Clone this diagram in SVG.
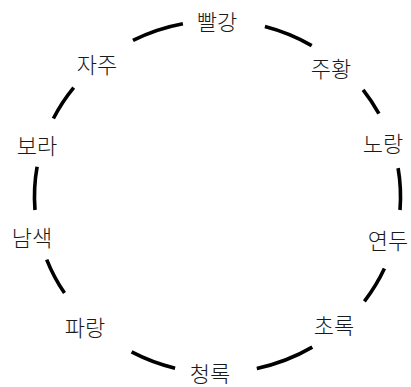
<svg xmlns="http://www.w3.org/2000/svg" width="411" height="387" viewBox="0 0 411 387">
<style>
.lbl{font-family:"Noto Sans CJK KR","Noto Sans",sans-serif;font-size:22px;font-weight:300;fill:#1a1a1a;text-anchor:middle;dominant-baseline:central}
.arc{fill:none;stroke:#000;stroke-width:3.6;stroke-linecap:butt}
</style>
<rect width="411" height="387" fill="#fff"/>
<g id="connectors">
<path class="arc" d="M133,40.4 A183,176 0 0 1 182.9,23.7"/>
<path class="arc" d="M264.9,26.5 A183,176 0 0 1 311.7,45.6"/>
<path class="arc" d="M363.1,89.8 A183,176 0 0 1 378.9,113.6"/>
<path class="arc" d="M398.1,168.1 A183,176 0 0 1 400,210"/>
<path class="arc" d="M384.4,268.6 A183,176 0 0 1 364.4,301.4"/>
<path class="arc" d="M312.3,347.1 A183,176 0 0 1 256.8,368.4"/>
<path class="arc" d="M175.1,368.2 A183,176 0 0 1 131.6,351.9"/>
<path class="arc" d="M64.5,293.1 A183,176 0 0 1 46.7,259.6"/>
<path class="arc" d="M35,210 A183,176 0 0 1 37.1,166.8"/>
<path class="arc" d="M53.4,118.5 A183,176 0 0 1 73.7,87.7"/>
</g>
<g id="n-red"><text class="lbl" x="217" y="20">빨강</text></g>
<g id="n-orange"><text class="lbl" x="331" y="67">주황</text></g>
<g id="n-yellow"><text class="lbl" x="383" y="142">노랑</text></g>
<g id="n-yellowgreen"><text class="lbl" x="388" y="239">연두</text></g>
<g id="n-green"><text class="lbl" x="334" y="324">초록</text></g>
<g id="n-bluegreen"><text class="lbl" x="210" y="372">청록</text></g>
<g id="n-blue"><text class="lbl" x="85" y="326">파랑</text></g>
<g id="n-indigo"><text class="lbl" x="32" y="236">남색</text></g>
<g id="n-purple"><text class="lbl" x="37" y="144">보라</text></g>
<g id="n-redpurple"><text class="lbl" x="97" y="63">자주</text></g>
</svg>
